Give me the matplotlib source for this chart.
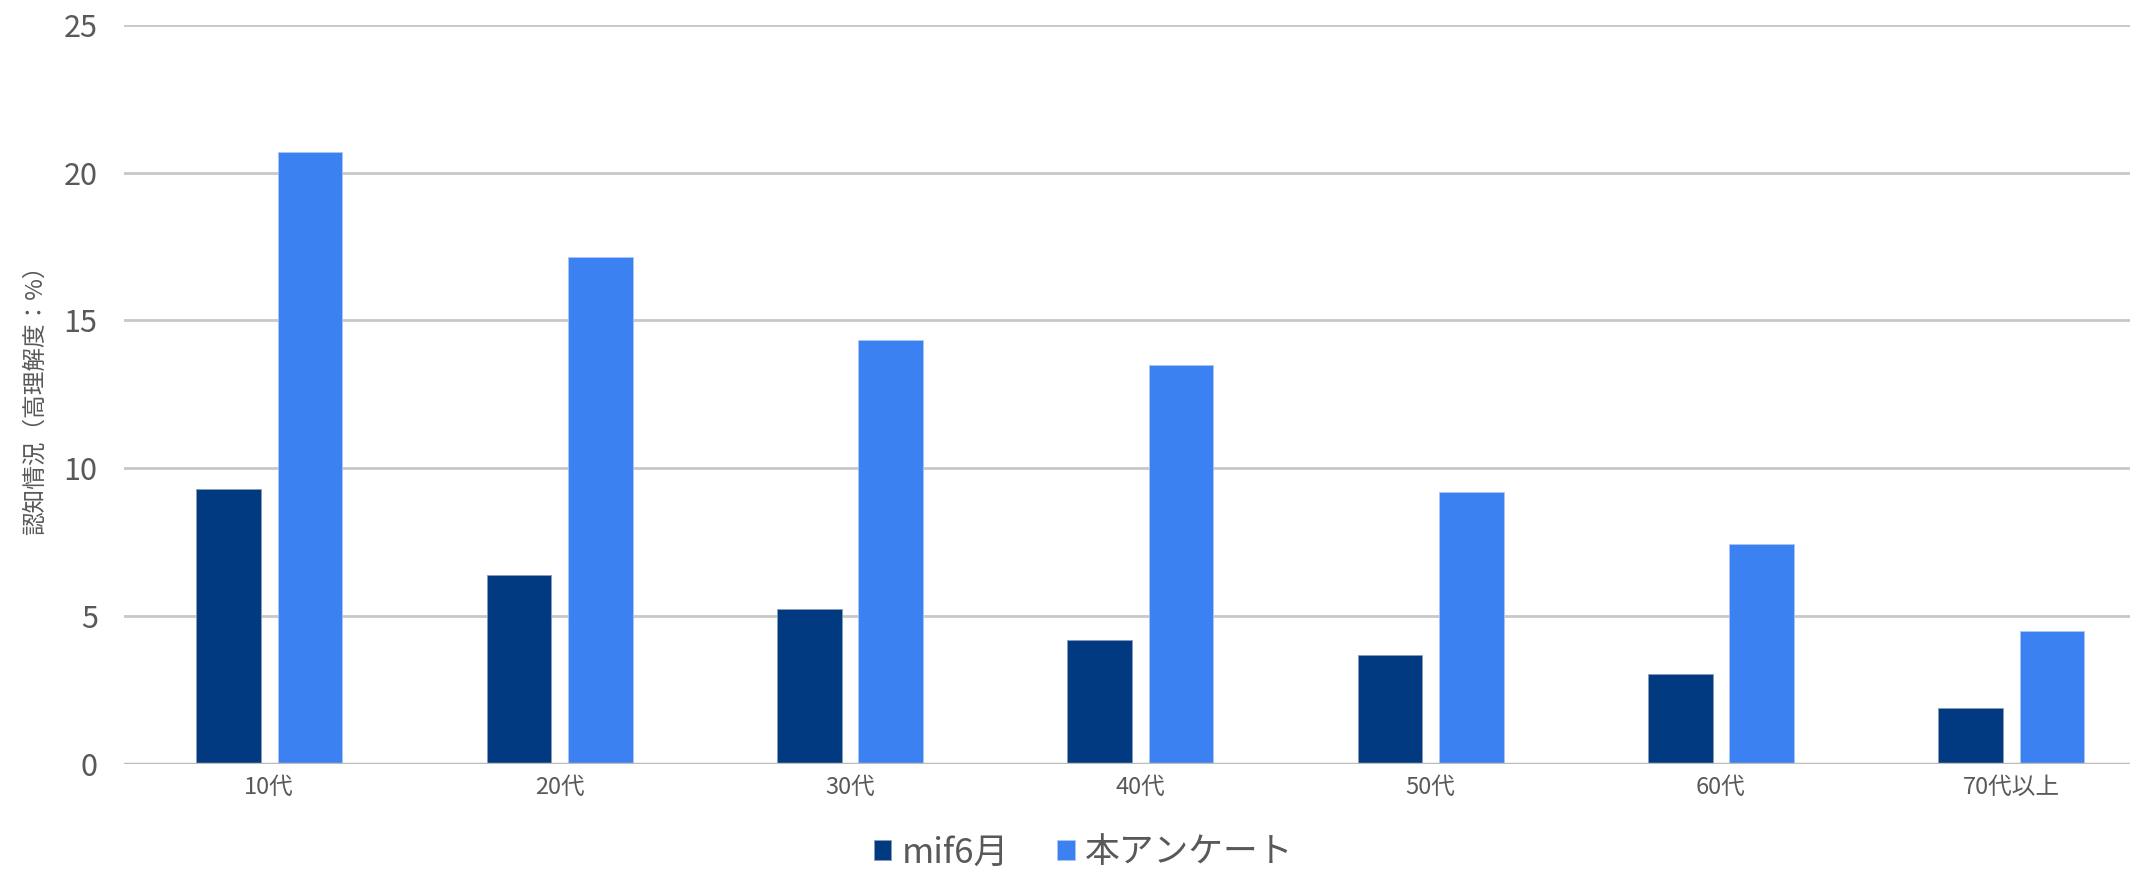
import numpy as np
import matplotlib.pyplot as plt

plt.rcParams['font.family'] = ['Noto Sans CJK JP', 'DejaVu Sans']

# data
ages = ['10代', '20代', '30代', '40代', '50代', '60代', '70代以上']
mif_june = [9.3, 6.4, 5.25, 4.2, 3.7, 3.05, 1.9]
this_survey = [20.7, 17.15, 14.35, 13.5, 9.2, 7.45, 4.5]
series_names = ['mif6月', '本アンケート']
yticks = [0, 5, 10, 15, 20, 25]

dark = '#023A81'
light = '#3C81F2'
text_gray = '#595959'

fig = plt.figure(figsize=(21.54, 8.73), dpi=100)
ax = fig.add_axes([0.0576, 0.1249, 0.9314, 0.8468])

x = np.arange(len(ages))
w = 0.223
ax.bar(x - 0.14, mif_june, width=w, color=dark, edgecolor='#8a9bb8', linewidth=0.6,
       label=series_names[0], zorder=3)
ax.bar(x + 0.14, this_survey, width=w, color=light, edgecolor='#a9c6f5', linewidth=0.6,
       label=series_names[1], zorder=3)

ax.set_xlim(-0.5, 6.41)
ax.set_ylim(0, 25)
ax.set_yticks(yticks)
ax.set_yticklabels([str(v) for v in yticks], fontsize=22, color=text_gray)
ax.set_xticks(x)
ax.set_xticklabels(ages, fontsize=17, color=text_gray)
ax.tick_params(axis='y', length=0, pad=19)
ax.tick_params(axis='x', length=0, pad=9)

ax.grid(axis='y', color='#c8c8c8', linewidth=2, zorder=0)
ax.axhline(0, color='#bcbcbc', linewidth=2.5, zorder=4)
for s in ax.spines.values():
    s.set_visible(False)

ax.set_ylabel('認知情況（高理解度：%）', fontsize=17, color=text_gray, labelpad=12)

fig.legend(loc='center', bbox_to_anchor=(0.503, 0.023), ncol=2, frameon=False,
           fontsize=25, handlelength=0.5, handleheight=0.5, handletextpad=0.3,
           columnspacing=1.4, labelcolor=text_gray)

fig.savefig('out.png', dpi=100)
